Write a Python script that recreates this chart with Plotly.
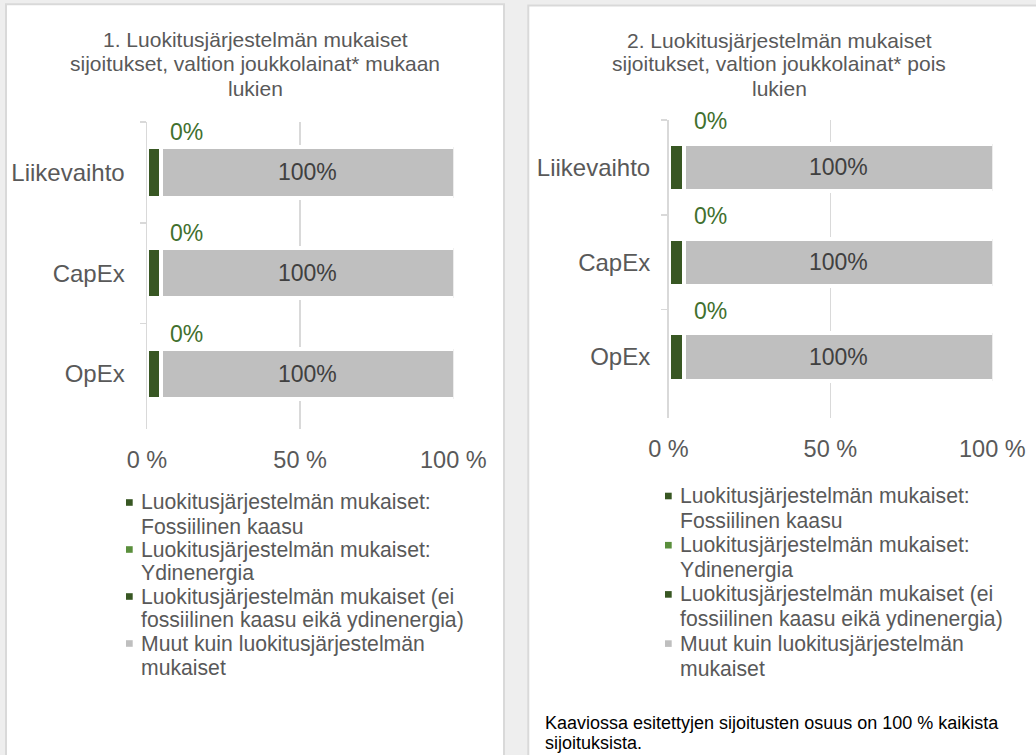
import plotly.graph_objects as go

W, H = 1036, 755

categories = ["Liikevaihto", "CapEx", "OpEx"]

# Chart 1: valtion joukkolainat mukaan lukien
c1_fossil = [0, 0, 0]
c1_nuclear = [0, 0, 0]
c1_aligned = [4.6, 4.6, 4.6]
c1_other = [100, 100, 100]
c1_aligned_labels = ["0%", "0%", "0%"]
c1_other_labels = ["100%", "100%", "100%"]

# Chart 2: valtion joukkolainat pois lukien
c2_fossil = [0, 0, 0]
c2_nuclear = [0, 0, 0]
c2_aligned = [4.8, 4.8, 4.8]
c2_other = [100, 100, 100]
c2_aligned_labels = ["0%", "0%", "0%"]
c2_other_labels = ["100%", "100%", "100%"]

x_range = [0, 100]
x_tickvals = [0, 50, 100]
x_ticktext = ["0 %", "50 %", "100 %"]

title1_lines = ["1. Luokitusjärjestelmän mukaiset",
                "sijoitukset, valtion joukkolainat* mukaan",
                "lukien"]
title2_lines = ["2. Luokitusjärjestelmän mukaiset",
                "sijoitukset, valtion joukkolainat* pois",
                "lukien"]
legend_lines = [
    ["Luokitusjärjestelmän mukaiset:", "Fossiilinen kaasu"],
    ["Luokitusjärjestelmän mukaiset:", "Ydinenergia"],
    ["Luokitusjärjestelmän mukaiset (ei", "fossiilinen kaasu eikä ydinenergia)"],
    ["Muut kuin luokitusjärjestelmän", "mukaiset"],
]
note_lines = ["Kaaviossa esitettyjen sijoitusten osuus on 100 % kaikista",
              "sijoituksista."]

COL_FOSSIL = "#385723"
COL_NUCLEAR = "#5a8f3c"
COL_ALIGNED = "#385723"
COL_OTHER = "#bfbfbf"
legend_colors = [COL_FOSSIL, COL_NUCLEAR, COL_ALIGNED, COL_OTHER]
TXT = "#595959"
GRID = "#d9d9d9"
FONT = "Liberation Sans, Arial, sans-serif"


def px(x):
    return x / W


def py(y):
    return 1 - y / H


fig = go.Figure()

charts = [
    dict(xa="x", ya="y", fossil=c1_fossil, nuclear=c1_nuclear, aligned=c1_aligned,
         other=c1_other, al_lab=c1_aligned_labels, ot_lab=c1_other_labels),
    dict(xa="x2", ya="y2", fossil=c2_fossil, nuclear=c2_nuclear, aligned=c2_aligned,
         other=c2_other, al_lab=c2_aligned_labels, ot_lab=c2_other_labels),
]

for ch in charts:
    common = dict(orientation="h", y=categories, xaxis=ch["xa"], yaxis=ch["ya"],
                  showlegend=False, hoverinfo="skip")
    fig.add_trace(go.Bar(x=ch["fossil"], marker=dict(color=COL_FOSSIL, line=dict(width=0)),
                         name=" ".join(legend_lines[0]), **common))
    fig.add_trace(go.Bar(x=ch["nuclear"], marker=dict(color=COL_NUCLEAR, line=dict(width=0)),
                         name=" ".join(legend_lines[1]), **common))
    fig.add_trace(go.Bar(x=ch["aligned"], marker=dict(color=COL_ALIGNED, line=dict(width=4, color="white")),
                         name=" ".join(legend_lines[2]), **common))
    fig.add_trace(go.Bar(x=ch["other"], marker=dict(color=COL_OTHER, line=dict(width=4, color="white")),
                         name=" ".join(legend_lines[3]), **common))

annotations = []
for ch, xsh, ysh in [(charts[0], 7, 40), (charts[1], 8, 46)]:
    for i, cat in enumerate(categories):
        base = ch["fossil"][i] + ch["nuclear"][i] + ch["aligned"][i]
        # "0%" labels above the aligned segment
        annotations.append(dict(x=base, y=i, xref=ch["xa"], yref=ch["ya"],
                                text=ch["al_lab"][i], showarrow=False, xanchor="left",
                                yanchor="middle", xshift=xsh, yshift=ysh,
                                font=dict(size=23, color="#41702e", family=FONT)))
        # "100%" labels centred on the visible (clipped) part of the grey segment
        end = min(base + ch["other"][i], x_range[1])
        annotations.append(dict(x=(base + end) / 2, y=i, xref=ch["xa"], yref=ch["ya"],
                                text=ch["ot_lab"][i], showarrow=False, xanchor="center",
                                yanchor="middle",
                                font=dict(size=23, color="#404040", family=FONT)))

# titles
for lines, cx, ys in [(title1_lines, 255, [39, 63.5, 88]), (title2_lines, 779, [40, 64, 88])]:
    for t, yy in zip(lines, ys):
        annotations.append(dict(x=px(cx), y=py(yy), xref="paper", yref="paper", text=t,
                                showarrow=False, xanchor="center", yanchor="middle",
                                font=dict(size=21, color=TXT, family=FONT)))

shapes = []
# panels
shapes.append(dict(type="rect", xref="paper", yref="paper", x0=px(6), x1=px(504),
                   y0=-0.05, y1=py(4.3), fillcolor="white", line=dict(color=GRID, width=2),
                   layer="below"))
shapes.append(dict(type="rect", xref="paper", yref="paper", x0=px(528.3), x1=1.05,
                   y0=-0.05, y1=py(5.6), fillcolor="white", line=dict(color=GRID, width=2),
                   layer="below"))

# legends (manual, to match line spacing)
for mx0, tx, y0, step in [(126, 139.3, 502.5, 23.5), (665, 678.3, 496, 24.6)]:
    for k, lines in enumerate(legend_lines):
        for j, t in enumerate(lines):
            yy = y0 + (2 * k + j) * step
            annotations.append(dict(x=px(tx), y=py(yy), xref="paper", yref="paper", text=t,
                                    showarrow=False, xanchor="left", yanchor="middle",
                                    font=dict(size=21.2, color=TXT, family=FONT)))
        ym = y0 + 2 * k * step
        shapes.append(dict(type="rect", xref="paper", yref="paper", x0=px(mx0), x1=px(mx0 + 6.7),
                           y0=py(ym + 3.3), y1=py(ym - 3.3), fillcolor=legend_colors[k],
                           line=dict(width=0)))

# note
for t, yy in zip(note_lines, [723, 743]):
    annotations.append(dict(x=px(542.7), y=py(yy), xref="paper", yref="paper", text=t,
                            showarrow=False, xanchor="left", yanchor="middle",
                            font=dict(size=18, color="#000000", family=FONT)))

xaxis_common = dict(range=x_range, tickvals=x_tickvals, ticktext=x_ticktext, showgrid=True,
                    gridcolor=GRID, gridwidth=1.5, zeroline=False, showline=False, ticks="",
                    tickfont=dict(size=23.5, color=TXT, family=FONT), fixedrange=True,
                    ticklabelstandoff=14, automargin=False)
yaxis_common = dict(type="category", autorange="reversed", showline=True, linecolor=GRID,
                    linewidth=1.5, ticks="outside", tickson="boundaries", ticklen=6,
                    tickcolor=GRID, tickwidth=1.5, showgrid=False, zeroline=False,
                    tickfont=dict(size=24, color=TXT, family=FONT), fixedrange=True,
                    automargin=False)

fig.update_layout(
    template="none",
    width=W, height=H, margin=dict(l=0, r=0, t=0, b=0, pad=0), autosize=False,
    paper_bgcolor="#eeeeee", plot_bgcolor="white",
    barmode="stack", bargap=0.5, showlegend=False,
    xaxis=dict(domain=[px(147), px(453.3)], anchor="y", **xaxis_common),
    yaxis=dict(domain=[py(429), py(122)], anchor="x", ticklabelstandoff=16, **yaxis_common),
    xaxis2=dict(domain=[px(668.5), px(992.3)], anchor="y2", **xaxis_common),
    yaxis2=dict(domain=[py(418), py(120)], anchor="x2", ticklabelstandoff=12, **yaxis_common),
    annotations=annotations, shapes=shapes,
    font=dict(family=FONT, color=TXT),
)

fig.write_html("out.html", config={"displayModeBar": False, "staticPlot": True, "responsive": False},
               post_script="document.body.style.margin='0';document.body.style.overflow='hidden';")
